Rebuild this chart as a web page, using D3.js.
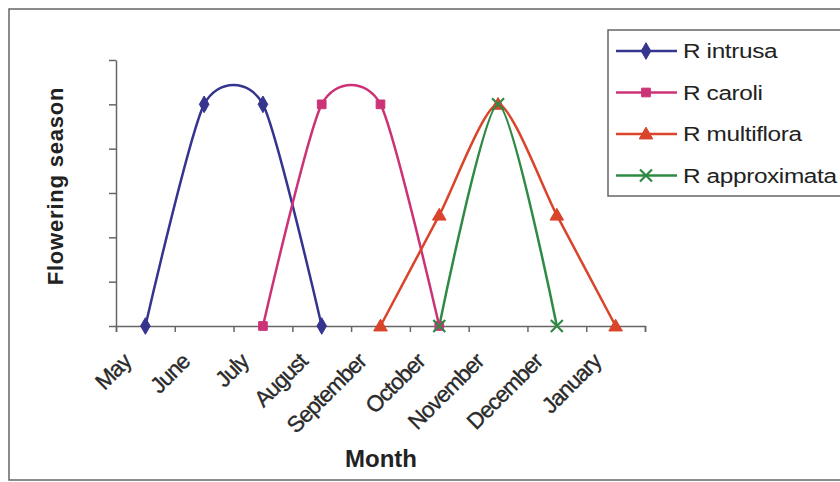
<!DOCTYPE html>
<html>
<head>
<meta charset="utf-8">
<script src="https://cdn.jsdelivr.net/npm/d3@7"></script>
<style>
  body { margin: 0; background: #fff; }
  svg { display: block; }
</style>
</head>
<body>
<svg id="chart" width="840" height="482"></svg>
<script>
const months = ['May','June','July','August','September','October','November','December','January'];
const intrusa     = [0, 5, 5, 0, null, null, null, null, null];
const caroli      = [null, null, 0, 5, 5, 0, null, null, null];
const multiflora  = [null, null, null, null, 0, 2.5, 5, 2.5, 0];
const approximata = [null, null, null, null, null, 0, 5, 0, null];
const yTicks = [0, 1, 2, 3, 4, 5, 6];

const series = [
  { name: 'R intrusa',     values: intrusa,     color: '#35358f', marker: 'diamond' },
  { name: 'R caroli',      values: caroli,      color: '#cc3377', marker: 'square' },
  { name: 'R multiflora',  values: multiflora,  color: '#d9442b', marker: 'triangle' },
  { name: 'R approximata', values: approximata, color: '#2f8a45', marker: 'x' }
];

const svg = d3.select('#chart');
const font = 'Liberation Sans, Arial, sans-serif';

/* Outer frame */
svg.append('rect')
  .attr('x', 9).attr('y', 9).attr('width', 840).attr('height', 471)
  .attr('fill', 'none').attr('stroke', '#666').attr('stroke-width', 1.5);

const x = d3.scaleBand().domain(months).range([116, 645]);
const xEdge = d3.scaleLinear().domain([0, months.length]).range([116, 645]);
const y = d3.scaleLinear().domain([0, 6]).range([326, 60]);
const cx = m => x(m) + x.bandwidth() / 2;

/* Axes */
svg.append('g')
  .attr('transform', 'translate(0,326)')
  .call(d3.axisBottom(xEdge).tickValues(d3.range(months.length + 1)).tickFormat('').tickSize(6).tickSizeOuter(6))
  .call(ax => ax.selectAll('path,line').attr('stroke', '#666').attr('stroke-width', 1.5));

svg.append('g')
  .attr('transform', 'translate(116,0)')
  .call(d3.axisLeft(y).tickValues(yTicks).tickFormat('').tickSize(7).tickSizeOuter(0))
  .call(ax => ax.selectAll('path,line').attr('stroke', '#666').attr('stroke-width', 1.5));

/* Month labels */
svg.selectAll('text.mlab')
  .data(months).join('text')
  .attr('class', 'mlab')
  .attr('transform', d => `translate(${cx(d) - 13},${363}) rotate(-45)`)
  .attr('text-anchor', 'end')
  .attr('font-family', font).attr('font-size', '22.5px').attr('fill', '#2a2a2a')
  .attr('stroke', '#2a2a2a').attr('stroke-width', 0.35)
  .attr('letter-spacing', '-1px')
  .text(d => d);

/* Axis titles */
svg.append('text')
  .attr('x', 381).attr('y', 467)
  .attr('text-anchor', 'middle')
  .attr('font-family', font).attr('font-size', '24px').attr('font-weight', 'bold').attr('fill', '#222')
  .text('Month');

svg.append('text')
  .attr('transform', 'translate(63,186) rotate(-90)')
  .attr('text-anchor', 'middle')
  .attr('font-family', font).attr('font-size', '22px').attr('font-weight', 'bold').attr('fill', '#222')
  .attr('letter-spacing', '0.8px')
  .text('Flowering season');

/* Markers */
function drawMarker(g, type, color, px, py) {
  if (type === 'x') {
    const s = 6;
    g.append('path')
      .attr('d', `M${px - s},${py - s}L${px + s},${py + s}M${px - s},${py + s}L${px + s},${py - s}`)
      .attr('stroke', color).attr('stroke-width', 2.2).attr('fill', 'none');
    return;
  }
  const sym = { diamond: d3.symbolDiamond, square: d3.symbolSquare, triangle: d3.symbolTriangle }[type];
  const size = { diamond: 80, square: 75, triangle: 80 }[type];
  g.append('path')
    .attr('d', d3.symbol().type(sym).size(size)())
    .attr('transform', `translate(${px},${py + (type === 'triangle' ? 1 : 0)})`)
    .attr('fill', color).attr('stroke', color).attr('stroke-width', 1);
}

const line = d3.line()
  .defined(d => d.v !== null)
  .x(d => cx(d.m)).y(d => y(d.v))
  .curve(d3.curveCardinal.tension(0.3));

series.forEach(s => {
  const pts = months.map((m, i) => ({ m, v: s.values[i] })).filter(d => d.v !== null);
  svg.append('path')
    .datum(pts)
    .attr('d', line)
    .attr('fill', 'none').attr('stroke', s.color).attr('stroke-width', 2.5);
});
series.forEach(s => {
  const g = svg.append('g');
  months.forEach((m, i) => {
    if (s.values[i] !== null) drawMarker(g, s.marker, s.color, cx(m), y(s.values[i]));
  });
});

/* Legend */
const leg = svg.append('g').attr('transform', 'translate(608,30)');
leg.append('rect')
  .attr('width', 260).attr('height', 166)
  .attr('fill', '#fff').attr('stroke', '#666').attr('stroke-width', 1.5);
series.forEach((s, i) => {
  const ly = 21 + i * 41.5;
  const g = leg.append('g');
  g.append('line').attr('x1', 8).attr('x2', 69).attr('y1', ly).attr('y2', ly)
    .attr('stroke', s.color).attr('stroke-width', 2.5);
  drawMarker(g, s.marker, s.color, 38, ly);
  g.append('text')
    .attr('transform', `translate(75,${ly + 7}) scale(1.25,1)`)
    .attr('font-family', font).attr('font-size', '19.5px').attr('fill', '#222')
    .attr('letter-spacing', '-0.3px')
    .text(s.name);
});
</script>
</body>
</html>
